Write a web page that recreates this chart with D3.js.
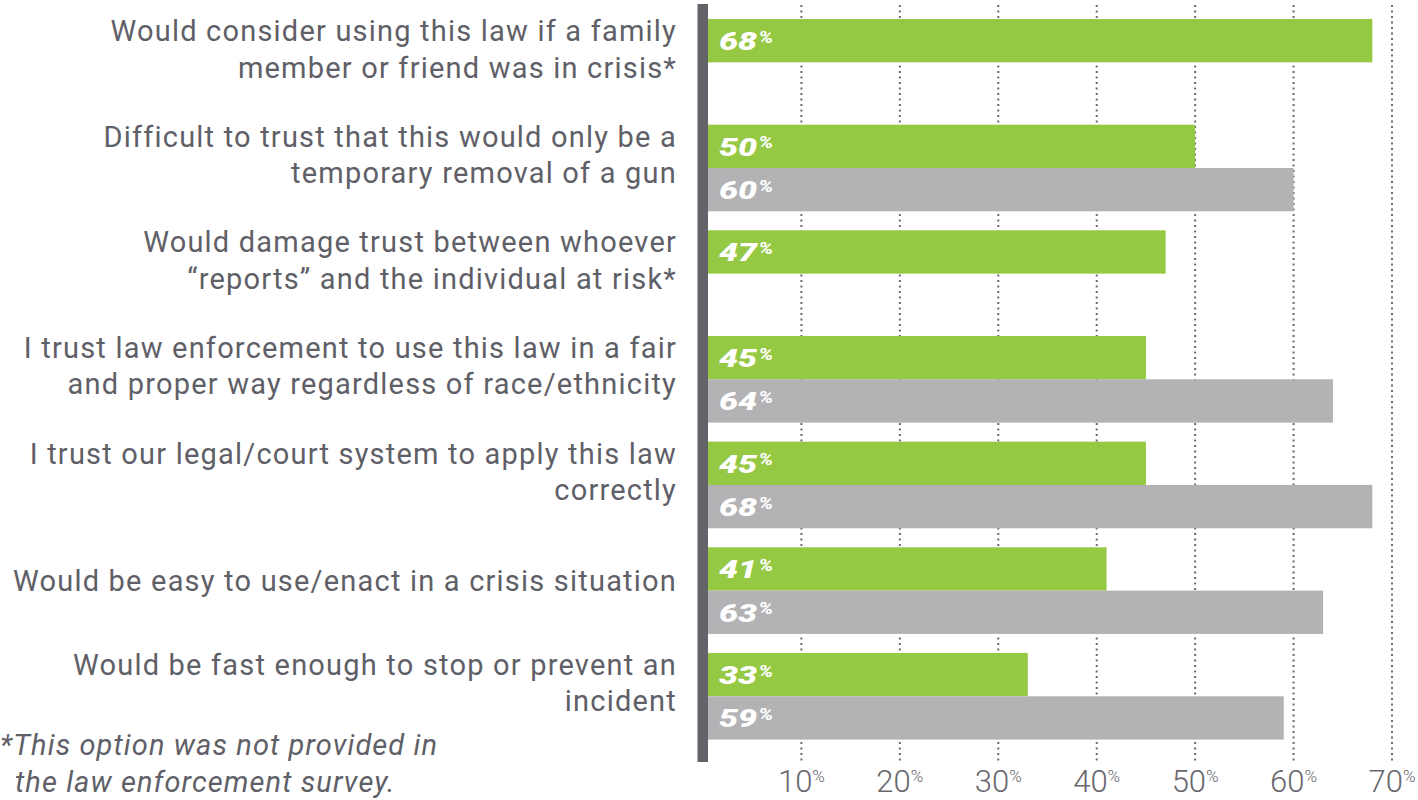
<!DOCTYPE html>
<html>
<head>
<meta charset="utf-8">
<script src="https://cdn.jsdelivr.net/npm/d3@7"></script>
<style>
  html, body { margin: 0; padding: 0; background: #ffffff; }
  svg { display: block; }
</style>
</head>
<body>
<svg id="chart" width="1418" height="800"></svg>
<script>
// Statement labels (each entry is the list of wrapped lines)
const categories = [
  ["Would consider using this law if a family", "member or friend was in crisis*"],
  ["Difficult to trust that this would only be a", "temporary removal of a gun"],
  ["Would damage trust between whoever", "\u201creports\u201d and the individual at risk*"],
  ["I trust law enforcement to use this law in a fair", "and proper way regardless of race/ethnicity"],
  ["I trust our legal/court system to apply this law", "correctly"],
  ["Would be easy to use/enact in a crisis situation"],
  ["Would be fast enough to stop or prevent an", "incident"]
];
// Percent agreeing, by survey group (null = not asked)
const publicValues = [68, 50, 47, 45, 45, 41, 33];
const lawEnforcementValues = [null, 60, null, 64, 68, 63, 59];
const tickValues = [10, 20, 30, 40, 50, 60, 70];
const footnote = ["*This option was not provided in", "the law enforcement survey."];

const svg = d3.select("#chart");
const textColor = "#5f6067";
const green = "#95c843";
const gray = "#b3b3b5";
const axisColor = "#636369";

const x = d3.scaleLinear().domain([0, 70]).range([703, 1392]);
const y = d3.scaleBand()
  .domain(d3.range(categories.length))
  .range([19, 739.6])
  .paddingInner(0.18)
  .paddingOuter(0);
const series = ["public", "le"];
const ySub = d3.scaleBand().domain(series).range([0, y.bandwidth()]);

// Dotted vertical gridlines
svg.append("g")
  .selectAll("line")
  .data(tickValues)
  .join("line")
  .attr("x1", d => x(d)).attr("x2", d => x(d))
  .attr("y1", 5).attr("y2", 763)
  .attr("stroke", "#6a6a70")
  .attr("stroke-width", 2)
  .attr("stroke-dasharray", "2,3.5");

// Bars
const rows = categories.map((c, i) => ({
  i,
  values: [
    { key: "public", v: publicValues[i] },
    { key: "le", v: lawEnforcementValues[i] }
  ].filter(d => d.v !== null)
}));

const groups = svg.append("g").selectAll("g")
  .data(rows)
  .join("g")
  .attr("transform", d => `translate(0,${y(d.i)})`);

groups.selectAll("rect")
  .data(d => d.values)
  .join("rect")
  .attr("x", x(0))
  .attr("y", d => ySub(d.key))
  .attr("width", d => x(d.v) - x(0))
  .attr("height", ySub.bandwidth())
  .attr("fill", d => d.key === "public" ? green : gray);

// Value labels inside bars
const valueLabels = groups.selectAll("g.val")
  .data(d => d.values)
  .join("g")
  .attr("class", "val")
  .attr("transform", d => `translate(719,${ySub(d.key) + ySub.bandwidth() / 2 + 9.5}) scale(1.28,1)`);

const vt = valueLabels.append("text")
  .attr("fill", "#ffffff")
  .attr("font-family", "Roboto, sans-serif")
  .attr("font-style", "italic")
  .attr("font-weight", 900)
  .attr("font-size", 26.5);
vt.append("tspan").text(d => d.v);
vt.append("tspan")
  .attr("font-size", 16)
  .attr("font-weight", 700)
  .attr("dx", 1)
  .attr("dy", -7.5)
  .text("%");

// Left axis bar
svg.append("rect")
  .attr("x", 697.5).attr("y", 4)
  .attr("width", 10.5).attr("height", 758)
  .attr("fill", axisColor);

// Category labels, right aligned
const lineGap = 36.5;
svg.append("g").selectAll("text")
  .data(categories)
  .join("text")
  .attr("text-anchor", "end")
  .attr("fill", textColor)
  .attr("font-family", "Roboto, sans-serif")
  .attr("font-size", 29)
  .attr("letter-spacing", 1.2)
  .each(function (lines, i) {
    const base = lines.length === 1 ? y(i) + 44 : y(i) + 22;
    d3.select(this).selectAll("tspan")
      .data(lines)
      .join("tspan")
      .attr("x", 677)
      .attr("y", (l, k) => base + k * lineGap)
      .text(l => l);
  });

// Bottom tick labels
const tl = svg.append("g").selectAll("text")
  .data(tickValues)
  .join("text")
  .attr("x", d => x(d))
  .attr("y", 792)
  .attr("text-anchor", "middle")
  .attr("fill", "#67676d")
  .attr("font-family", "Roboto, sans-serif")
  .attr("font-weight", 300)
  .attr("font-size", 31);
tl.append("tspan").text(d => d);
tl.append("tspan").attr("font-size", 17).attr("dy", -10).text("%");

// Footnote
svg.append("text")
  .attr("fill", textColor)
  .attr("font-family", "Roboto, sans-serif")
  .attr("font-style", "italic")
  .attr("font-size", 29)
  .attr("letter-spacing", 1.1)
  .selectAll("tspan")
  .data(footnote)
  .join("tspan")
  .attr("x", (d, k) => k === 0 ? 0 : 15)
  .attr("y", (d, k) => 755 + k * 37)
  .text(d => d);
</script>
</body>
</html>
